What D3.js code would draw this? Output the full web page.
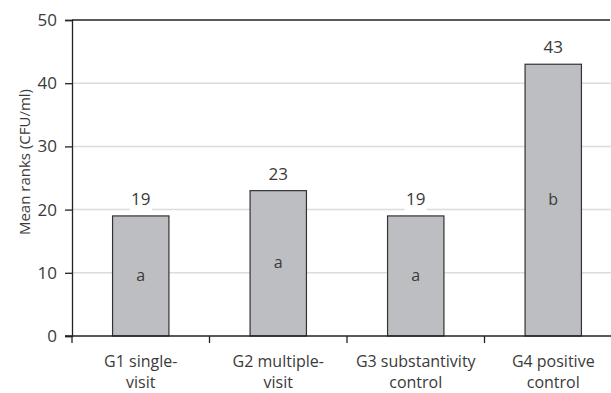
<!DOCTYPE html>
<html>
<head>
<meta charset="utf-8">
<script src="https://cdn.jsdelivr.net/npm/d3@7"></script>
<style>
  html, body { margin: 0; padding: 0; background: #fff; }
  svg text { font-family: "Open Sans", "Lato", sans-serif; fill: #3a3a3a; }
</style>
</head>
<body>
<svg id="chart" width="611" height="393"></svg>
<script>
// Groups, mean ranks and significance letters
const groups = ["G1 single-\nvisit", "G2 multiple-\nvisit", "G3 substantivity\ncontrol", "G4 positive\ncontrol"];
const meanRanks = [19, 23, 19, 43];
const letters = ["a", "a", "a", "b"];
const yTicks = [0, 10, 20, 30, 40, 50];

const svg = d3.select("#chart");
const plotLeft = 72, plotRight = 622, plotTop = 20, plotBottom = 336;

const x = d3.scaleBand().domain(groups).range([plotLeft, plotRight]).paddingInner(0.59).paddingOuter(0.295);
const y = d3.scaleLinear().domain([0, 50]).range([plotBottom, plotTop]);

// horizontal gridlines
svg.append("g").selectAll("line").data(yTicks.filter(t => t > 0 && t < 50)).join("line")
  .attr("x1", plotLeft).attr("x2", 611)
  .attr("y1", d => y(d)).attr("y2", d => y(d))
  .attr("stroke", "#dcdcdc").attr("stroke-width", 1.5);

// top frame line
svg.append("line").attr("x1", plotLeft).attr("x2", 610).attr("y1", y(50)).attr("y2", y(50))
  .attr("stroke", "#222").attr("stroke-width", 1.3);

// bars
svg.append("g").selectAll("rect").data(groups).join("rect")
  .attr("x", d => x(d)).attr("width", x.bandwidth())
  .attr("y", (d, i) => y(meanRanks[i])).attr("height", (d, i) => y(0) - y(meanRanks[i]))
  .attr("fill", "#bdbec2").attr("stroke", "#333").attr("stroke-width", 1.2);

// value labels with a white backing
const vl = svg.append("g").selectAll("g").data(groups).join("g")
  .attr("transform", (d, i) => `translate(${x(d) + x.bandwidth() / 2},${y(meanRanks[i]) - 17})`);
vl.append("rect").attr("x", -11).attr("y", -9).attr("width", 22).attr("height", 22).attr("fill", "#fff");
vl.append("text").attr("text-anchor", "middle").attr("dy", "0.36em")
  .style("font-size", "17px").text((d, i) => meanRanks[i]);

// letters inside bars
svg.append("g").selectAll("text").data(groups).join("text")
  .attr("x", d => x(d) + x.bandwidth() / 2)
  .attr("y", (d, i) => y(meanRanks[i] / 2))
  .attr("dy", "0.3em").attr("text-anchor", "middle")
  .style("font-size", "16px").text((d, i) => letters[i]);

// y axis
const yAxis = svg.append("g").attr("transform", `translate(${plotLeft},0)`)
  .call(d3.axisLeft(y).tickValues(yTicks).tickSize(7).tickPadding(8));
yAxis.select(".domain").attr("stroke", "#222").attr("stroke-width", 1.3);
yAxis.selectAll(".tick line").attr("stroke", "#222").attr("stroke-width", 1.3);
yAxis.selectAll(".tick text").style("font-size", "17px").attr("fill", "#3a3a3a");

// x axis with ticks at band boundaries
svg.append("line").attr("x1", plotLeft - 7).attr("x2", 611).attr("y1", plotBottom).attr("y2", plotBottom)
  .attr("stroke", "#222").attr("stroke-width", 1.3);
const bounds = groups.map(d => x(d) - (x.step() - x.bandwidth()) / 2);
svg.append("g").selectAll("line").data(bounds).join("line")
  .attr("x1", d => d).attr("x2", d => d).attr("y1", plotBottom).attr("y2", plotBottom + 7)
  .attr("stroke", "#222").attr("stroke-width", 1.3);

// category labels on two lines
const cl = svg.append("g").selectAll("text").data(groups).join("text")
  .attr("x", d => x(d) + x.bandwidth() / 2).attr("y", 367)
  .attr("text-anchor", "middle").style("font-size", "16px");
cl.selectAll("tspan").data(d => d.split("\n")).join("tspan")
  .attr("x", function () { return this.parentNode.getAttribute("x"); })
  .attr("dy", (d, i) => i === 0 ? 0 : 21).text(d => d);

// y axis title
svg.append("text").attr("transform", `translate(30,${(plotTop + plotBottom) / 2 - 16}) rotate(-90)`)
  .attr("text-anchor", "middle").style("font-size", "15px")
  .text("Mean ranks (CFU/ml)");
</script>
</body>
</html>
